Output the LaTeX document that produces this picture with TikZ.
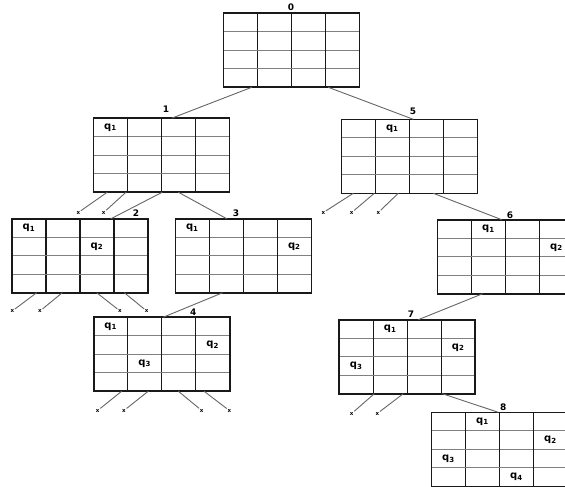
\documentclass[tikz,border=0pt]{standalone}
\usepackage{fontspec}
\setmainfont{DejaVu Sans}
\usetikzlibrary{calc}
\begin{document}
\begin{tikzpicture}[x=1pt,y=-1pt,
  board/.style={draw=black!90,line width=1.6pt,minimum width=136pt,minimum height=74pt,inner sep=0pt,outer sep=0pt,fill=white,
    path picture={
      \foreach \k in {1,2,3}{
        \draw[black!50,line width=1.3pt] ($(path picture bounding box.north west)!\k/4!(path picture bounding box.south west)$) -- ($(path picture bounding box.north east)!\k/4!(path picture bounding box.south east)$);
        \draw[black!90,line width=1.3pt] ($(path picture bounding box.north west)!\k/4!(path picture bounding box.north east)$) -- ($(path picture bounding box.south west)!\k/4!(path picture bounding box.south east)$);
      }
    }},
  edge/.style={draw=black!60,line width=0.9pt},
  lbl/.style={font=\fontsize{9}{10}\selectfont\bfseries,inner sep=0pt},
  qt/.style={font=\fontsize{10}{10}\selectfont\bfseries,inner sep=0pt},
  xm/.style={font=\fontsize{5.5}{5.5}\selectfont\bfseries,inner sep=0.6pt}]
\useasboundingbox (0,0) rectangle (565,487);
\fill[white] (0,0) rectangle (565,487);
\clip (0,0) rectangle (565,487);
\newcommand{\qq}[4]{\node[qt] at ($(#1.north west)+(17+34*#2,9.25+18.5*#3)$) {q\textsubscript{#4}};}
% boards
\node[board] (b0) at (291.3,50.3) {};
\node[board] (b1) at (161.5,155.2) {};
\node[board] (b5) at (409.3,156.3) {};
\node[board] (b2) at (80,255.7) {};
\node[board] (b3) at (243.3,255.7) {};
\node[board] (b4) at (161.7,354.2) {};
\node[board] (b6) at (505.5,256.7) {};
\node[board] (b7) at (407.2,356.7) {};
\node[board] (b8) at (499.5,449.3) {};
% labels
\node[lbl] (l0) at (291,7.3) {0};
\node[lbl] (l1) at (166,109) {1};
\node[lbl] (l5) at (413,111) {5};
\node[lbl] (l2) at (136,213.3) {2};
\node[lbl] (l3) at (236,213) {3};
\node[lbl] (l4) at (193.3,312.7) {4};
\node[lbl] (l6) at (510,215) {6};
\node[lbl] (l7) at (411,314.3) {7};
\node[lbl] (l8) at (503.3,407.7) {8};
% queens
\qq{b1}{0}{0}{1}
\qq{b5}{1}{0}{1}
\qq{b2}{0}{0}{1} \qq{b2}{2}{1}{2}
\qq{b3}{0}{0}{1} \qq{b3}{3}{1}{2}
\qq{b4}{0}{0}{1} \qq{b4}{3}{1}{2} \qq{b4}{1}{2}{3}
\qq{b6}{1}{0}{1} \qq{b6}{3}{1}{2}
\qq{b7}{1}{0}{1} \qq{b7}{3}{1}{2} \qq{b7}{0}{2}{3}
\qq{b8}{1}{0}{1} \qq{b8}{3}{1}{2} \qq{b8}{0}{2}{3} \qq{b8}{2}{3}{4}
% tree edges
\draw[edge] ([xshift=28.4pt]b0.south west) -- ([xshift=78.2pt]b1.north west);
\draw[edge] ([xshift=105pt]b0.south west) -- ([xshift=72pt]b5.north west);
\draw[edge] ([xshift=68.8pt]b1.south west) -- ([xshift=99pt]b2.north west);
\draw[edge] ([xshift=84.8pt]b1.south west) -- ([xshift=51.4pt]b3.north west);
\draw[edge] ([xshift=47.4pt]b3.south west) -- ([xshift=69.6pt]b4.north west);
\draw[edge] ([xshift=92pt]b5.south west) -- ([xshift=64.2pt]b6.north west);
\draw[edge] ([xshift=45.2pt]b6.south west) -- ([xshift=79.1pt]b7.north west);
\draw[edge] ([xshift=103.1pt]b7.south west) -- ([xshift=66.8pt]b8.north west);
% dead ends
\node[xm] (x1a) at (78.3,212.5) {x};
\node[xm] (x1b) at (103.7,212.5) {x};
\draw[edge] ([xshift=13.8pt]b1.south west) -- (x1a);
\draw[edge] ([xshift=32.5pt]b1.south west) -- (x1b);
\node[xm] (x5a) at (323.3,212.5) {x};
\node[xm] (x5b) at (351.7,212.5) {x};
\node[xm] (x5c) at (378.3,212.5) {x};
\draw[edge] ([xshift=12pt]b5.south west) -- (x5a);
\draw[edge] ([xshift=33pt]b5.south west) -- (x5b);
\draw[edge] ([xshift=57pt]b5.south west) -- (x5c);
\node[xm] (x2a) at (12.3,311) {x};
\node[xm] (x2b) at (40,311) {x};
\node[xm] (x2c) at (120,311) {x};
\node[xm] (x2d) at (146.7,311) {x};
\draw[edge] ([xshift=24.7pt]b2.south west) -- (x2a);
\draw[edge] ([xshift=50.3pt]b2.south west) -- (x2b);
\draw[edge] ([xshift=84.7pt]b2.south west) -- (x2c);
\draw[edge] ([xshift=112.3pt]b2.south west) -- (x2d);
\node[xm] (x4a) at (97.7,410.5) {x};
\node[xm] (x4b) at (124,410.5) {x};
\node[xm] (x4c) at (201.7,410.5) {x};
\node[xm] (x4d) at (229.3,410.5) {x};
\draw[edge] ([xshift=28pt]b4.south west) -- (x4a);
\draw[edge] ([xshift=54.6pt]b4.south west) -- (x4b);
\draw[edge] ([xshift=84.6pt]b4.south west) -- (x4c);
\draw[edge] ([xshift=110.3pt]b4.south west) -- (x4d);
\node[xm] (x7a) at (351.7,413.5) {x};
\node[xm] (x7b) at (377.3,413.5) {x};
\draw[edge] ([xshift=35.1pt]b7.south west) -- (x7a);
\draw[edge] ([xshift=64.1pt]b7.south west) -- (x7b);
\end{tikzpicture}
\end{document}
